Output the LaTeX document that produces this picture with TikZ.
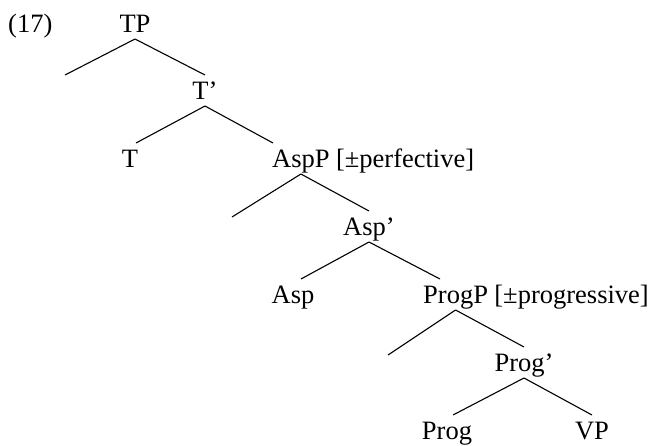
\documentclass[tikz,border=0pt]{standalone}
\usepackage{fontspec}
\setmainfont{Liberation Serif}
\begin{document}
\begin{tikzpicture}[x=1pt,y=-1pt,
  lbl/.style={anchor=base, inner sep=0pt, font=\fontsize{26.5}{31}\selectfont},
  feat/.style={lbl, anchor=base west, xshift=6pt},
  branch/.style={line width=1.1pt},
  apex/.style={yshift=-7pt},
  top/.style={yshift=24pt}]
\useasboundingbox (0,0) rectangle (648,445);

% example number
\node[lbl, anchor=base west] (ex) at (8,32) {(17)};

% labels
\node[lbl] (tp)    at (135,32)  {TP};
\node[lbl] (tbar)  at (205,99)  {T’};
\node[lbl] (t)     at (130,167) {T};
\node[lbl, anchor=base west] (aspp) at (272,167) {AspP};
\node[feat] (asppf) at (aspp.base east) {[±perfective]};
\node[lbl] (aspbar) at (369,235) {Asp’};
\node[lbl] (asp)   at (293,303) {Asp};
\node[lbl, anchor=base west] (progp) at (423,303) {ProgP};
\node[feat] (progpf) at (progp.base east) {[±progressive]};
\node[lbl] (progbar) at (524,371) {Prog’};
\node[lbl] (prog)  at (447,439) {Prog};
\node[lbl] (vp)    at (592,439) {VP};

% free ends of the empty specifier branches
\coordinate (tpspec)   at (65,75);
\coordinate (asppspec) at (232,217);
\coordinate (progpspec) at (388,355);

% branches
\draw[branch] ([apex]tp.base) -- (tpspec);
\draw[branch] ([apex]tp.base) -- ([top]tbar.base);
\draw[branch] ([apex]tbar.base) -- ([top,xshift=6pt]t.base);
\draw[branch] ([apex]tbar.base) -- ([top,xshift=1pt]aspp.base west);
\draw[branch] ([apex]aspp.base) -- (asppspec);
\draw[branch] ([apex]aspp.base) -- ([top]aspbar.base);
\draw[branch] ([apex]aspbar.base) -- ([top,xshift=8pt]asp.base);
\draw[branch] ([apex]aspbar.base) -- ([top,xshift=17pt]progp.base west);
\draw[branch] ([apex]progp.base) -- (progpspec);
\draw[branch] ([apex]progp.base) -- ([top]progbar.base);
\draw[branch] ([apex]progbar.base) -- ([top,xshift=6pt]prog.base);
\draw[branch] ([apex]progbar.base) -- ([top]vp.base);
\end{tikzpicture}
\end{document}
